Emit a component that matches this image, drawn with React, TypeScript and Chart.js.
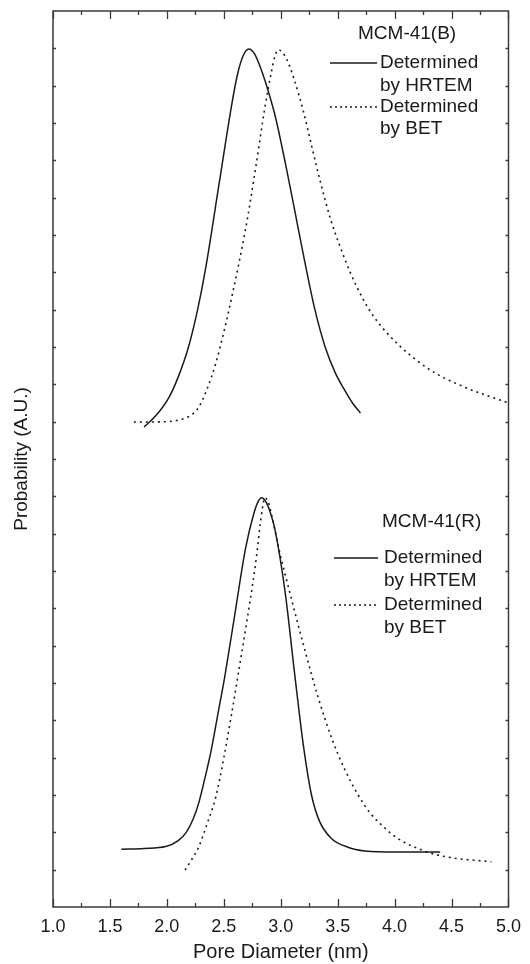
import React, { useEffect, useRef } from "react";
import { Chart, registerables } from "chart.js";

Chart.register(...registerables);

// ---- Data ----
const xTickValues = [1.0, 1.5, 2.0, 2.5, 3.0, 3.5, 4.0, 4.5, 5.0];
const xMinorValues = [1.25, 1.75, 2.25, 2.75, 3.25, 3.75, 4.25, 4.75];
const yTickValues = [1, 2, 3, 4, 5, 6, 7, 8, 9, 10, 11, 12, 13, 14, 15, 16, 17, 18, 19, 20, 21, 22, 23];

// Upper panel: MCM-41(B)
const upperHrtemX = [1.80, 1.90, 2.02, 2.10, 2.19, 2.27, 2.34, 2.46, 2.57, 2.62, 2.67, 2.72, 2.77, 2.82, 2.86, 2.95, 3.04, 3.12, 3.21, 3.30, 3.39, 3.48, 3.56, 3.63, 3.70];
const upperHrtemY = [12.86, 13.15, 13.66, 14.2, 15.0, 16.0, 17.1, 19.4, 21.5, 22.3, 22.8, 22.98, 22.85, 22.5, 22.15, 21.2, 19.93, 18.7, 17.3, 16.0, 15.0, 14.3, 13.85, 13.5, 13.23];
const upperBetX = [1.71, 2.00, 2.11, 2.20, 2.28, 2.35, 2.43, 2.50, 2.57, 2.69, 2.78, 2.86, 2.92, 2.95, 2.98, 3.05, 3.12, 3.20, 3.27, 3.35, 3.44, 3.52, 3.61, 3.72, 3.82, 4.02, 4.31, 4.61, 5.00];
const upperBetY = [12.99, 13.0, 13.05, 13.15, 13.39, 13.85, 14.57, 15.4, 16.34, 18.14, 19.8, 21.4, 22.4, 22.8, 22.96, 22.72, 22.15, 21.3, 20.4, 19.4, 18.4, 17.7, 17.0, 16.3, 15.8, 15.1, 14.39, 13.93, 13.5];

// Lower panel: MCM-41(R)
const lowerHrtemX = [1.60, 1.80, 1.99, 2.10, 2.17, 2.23, 2.28, 2.33, 2.39, 2.45, 2.51, 2.60, 2.69, 2.76, 2.80, 2.83, 2.87, 2.91, 2.95, 3.04, 3.12, 3.20, 3.27, 3.34, 3.44, 3.59, 3.74, 4.02, 4.40];
const lowerHrtemY = [1.55, 1.57, 1.62, 1.78, 2.0, 2.35, 2.79, 3.4, 4.21, 5.2, 6.2, 7.9, 9.59, 10.5, 10.85, 10.96, 10.85, 10.55, 10.1, 8.4, 6.3, 4.3, 3.0, 2.3, 1.85, 1.6, 1.5, 1.47, 1.47];
const lowerBetX = [2.16, 2.22, 2.28, 2.35, 2.43, 2.50, 2.57, 2.63, 2.69, 2.78, 2.82, 2.84, 2.86, 2.89, 2.92, 2.98, 3.09, 3.21, 3.33, 3.45, 3.56, 3.68, 3.79, 3.92, 4.02, 4.26, 4.46, 4.85];
const lowerBetY = [0.99, 1.28, 1.61, 2.2, 2.95, 4.0, 5.2, 6.3, 7.42, 9.22, 10.25, 10.7, 10.96, 10.85, 10.5, 9.64, 8.3, 6.9, 5.6, 4.5, 3.7, 3.0, 2.5, 2.1, 1.85, 1.5, 1.34, 1.21];

// Legend texts
const panelTitles = ["MCM-41(B)", "MCM-41(R)"];
const legendLines = ["Determined", "by HRTEM", "Determined", "by BET"];

const FONT = "'Liberation Sans', Arial, Helvetica, sans-serif";
const INK = "#1a1a1a";
const AXIS = "#3a3a3a";

const toPoints = (xs: number[], ys: number[]) => xs.map((x, i) => ({ x, y: ys[i] }));

const framePlugin = {
  id: "frameAndLegend",
  afterDraw(chart: any) {
    const { ctx, chartArea } = chart;
    const { left, right, top, bottom } = chartArea;
    const xs = chart.scales.x;
    const ys = chart.scales.y;
    ctx.save();
    // frame
    ctx.strokeStyle = AXIS;
    ctx.lineWidth = 1.5;
    ctx.strokeRect(left, top, right - left, bottom - top);
    // x ticks (inside, top & bottom)
    ctx.lineWidth = 1.3;
    const drawX = (v: number, len: number) => {
      const px = Math.round(xs.getPixelForValue(v)) + 0.5;
      ctx.beginPath();
      ctx.moveTo(px, bottom);
      ctx.lineTo(px, bottom - len);
      ctx.moveTo(px, top);
      ctx.lineTo(px, top + len);
      ctx.stroke();
    };
    xTickValues.forEach((v) => drawX(v, 8));
    xMinorValues.forEach((v) => drawX(v, 4));
    // y ticks (inside, left & right)
    yTickValues.forEach((v) => {
      const py = Math.round(ys.getPixelForValue(v)) + 0.5;
      ctx.beginPath();
      ctx.moveTo(left, py);
      ctx.lineTo(left + 3, py);
      ctx.moveTo(right, py);
      ctx.lineTo(right - 3, py);
      ctx.stroke();
    });

    // legends
    ctx.fillStyle = INK;
    ctx.font = `19px ${FONT}`;
    ctx.textBaseline = "middle";
    ctx.textAlign = "left";
    const drawLegend = (title: string, titleX: number, titleY: number, lx0: number, lx1: number, tx: number, ys2: number[]) => {
      ctx.fillText(title, titleX, titleY);
      ctx.strokeStyle = INK;
      ctx.lineWidth = 1.5;
      ctx.setLineDash([]);
      ctx.beginPath();
      ctx.moveTo(lx0, ys2[0]);
      ctx.lineTo(lx1, ys2[0]);
      ctx.stroke();
      ctx.setLineDash([2, 3]);
      ctx.beginPath();
      ctx.moveTo(lx0, ys2[2]);
      ctx.lineTo(lx1, ys2[2]);
      ctx.stroke();
      ctx.setLineDash([]);
      legendLines.forEach((t, i) => ctx.fillText(t, tx, ys2[i]));
    };
    drawLegend(panelTitles[0], left + 305, top + 23, left + 277, left + 324, left + 327, [top + 52, top + 75, top + 96, top + 118]);
    drawLegend(panelTitles[1], left + 329, top + 511, left + 281, left + 325, left + 331, [top + 547, top + 570, top + 594, top + 617]);
    ctx.restore();
  },
};

export default function App() {
  const canvasRef = useRef<HTMLCanvasElement | null>(null);

  useEffect(() => {
    const canvas = canvasRef.current;
    if (!canvas) return;
    const lineStyle = (dashed: boolean) => ({
      borderColor: INK,
      borderWidth: dashed ? 1.6 : 1.5,
      borderDash: dashed ? [2, 4] : [],
      pointRadius: 0,
      fill: false,
      cubicInterpolationMode: "monotone" as const,
    });
    const chart = new Chart(canvas, {
      type: "line",
      data: {
        datasets: [
          { label: "MCM-41(B) HRTEM", data: toPoints(upperHrtemX, upperHrtemY), ...lineStyle(false) },
          { label: "MCM-41(B) BET", data: toPoints(upperBetX, upperBetY), ...lineStyle(true) },
          { label: "MCM-41(R) HRTEM", data: toPoints(lowerHrtemX, lowerHrtemY), ...lineStyle(false) },
          { label: "MCM-41(R) BET", data: toPoints(lowerBetX, lowerBetY), ...lineStyle(true) },
        ],
      },
      options: {
        animation: false,
        responsive: false,
        devicePixelRatio: 1,
        layout: { padding: { top: 11, right: 17, left: 0, bottom: 0 } },
        plugins: { legend: { display: false }, tooltip: { enabled: false } },
        scales: {
          x: {
            type: "linear",
            min: 1,
            max: 5,
            afterBuildTicks: (scale: any) => {
              scale.ticks = xTickValues.map((v) => ({ value: v }));
            },
            afterFit: (scale: any) => {
              scale.height = 57;
            },
            ticks: {
              padding: 9,
              color: INK,
              font: { family: FONT, size: 18 },
              callback: (v: any) => Number(v).toFixed(1),
              maxRotation: 0,
              autoSkip: false,
            },
            grid: { display: false, drawTicks: false },
            border: { display: false },
            title: {
              display: true,
              text: "Pore Diameter (nm)",
              color: INK,
              font: { family: FONT, size: 20 },
              padding: { top: 0, bottom: 0 },
            },
          },
          y: {
            type: "linear",
            min: 0,
            max: 24,
            afterFit: (scale: any) => {
              scale.width = 53;
            },
            ticks: { display: false },
            grid: { display: false, drawTicks: false },
            border: { display: false },
            title: {
              display: true,
              text: "Probability (A.U.)",
              color: INK,
              font: { family: FONT, size: 19 },
              padding: { top: 10, bottom: 0 },
            },
          },
        },
      },
      plugins: [framePlugin],
    });
    return () => chart.destroy();
  }, []);

  return (
    <div style={{ position: "absolute", left: 0, top: 0, width: 530, height: 964, background: "#fff" }}>
      <canvas ref={canvasRef} width={530} height={964} style={{ display: "block", width: 530, height: 964 }} />
    </div>
  );
}
